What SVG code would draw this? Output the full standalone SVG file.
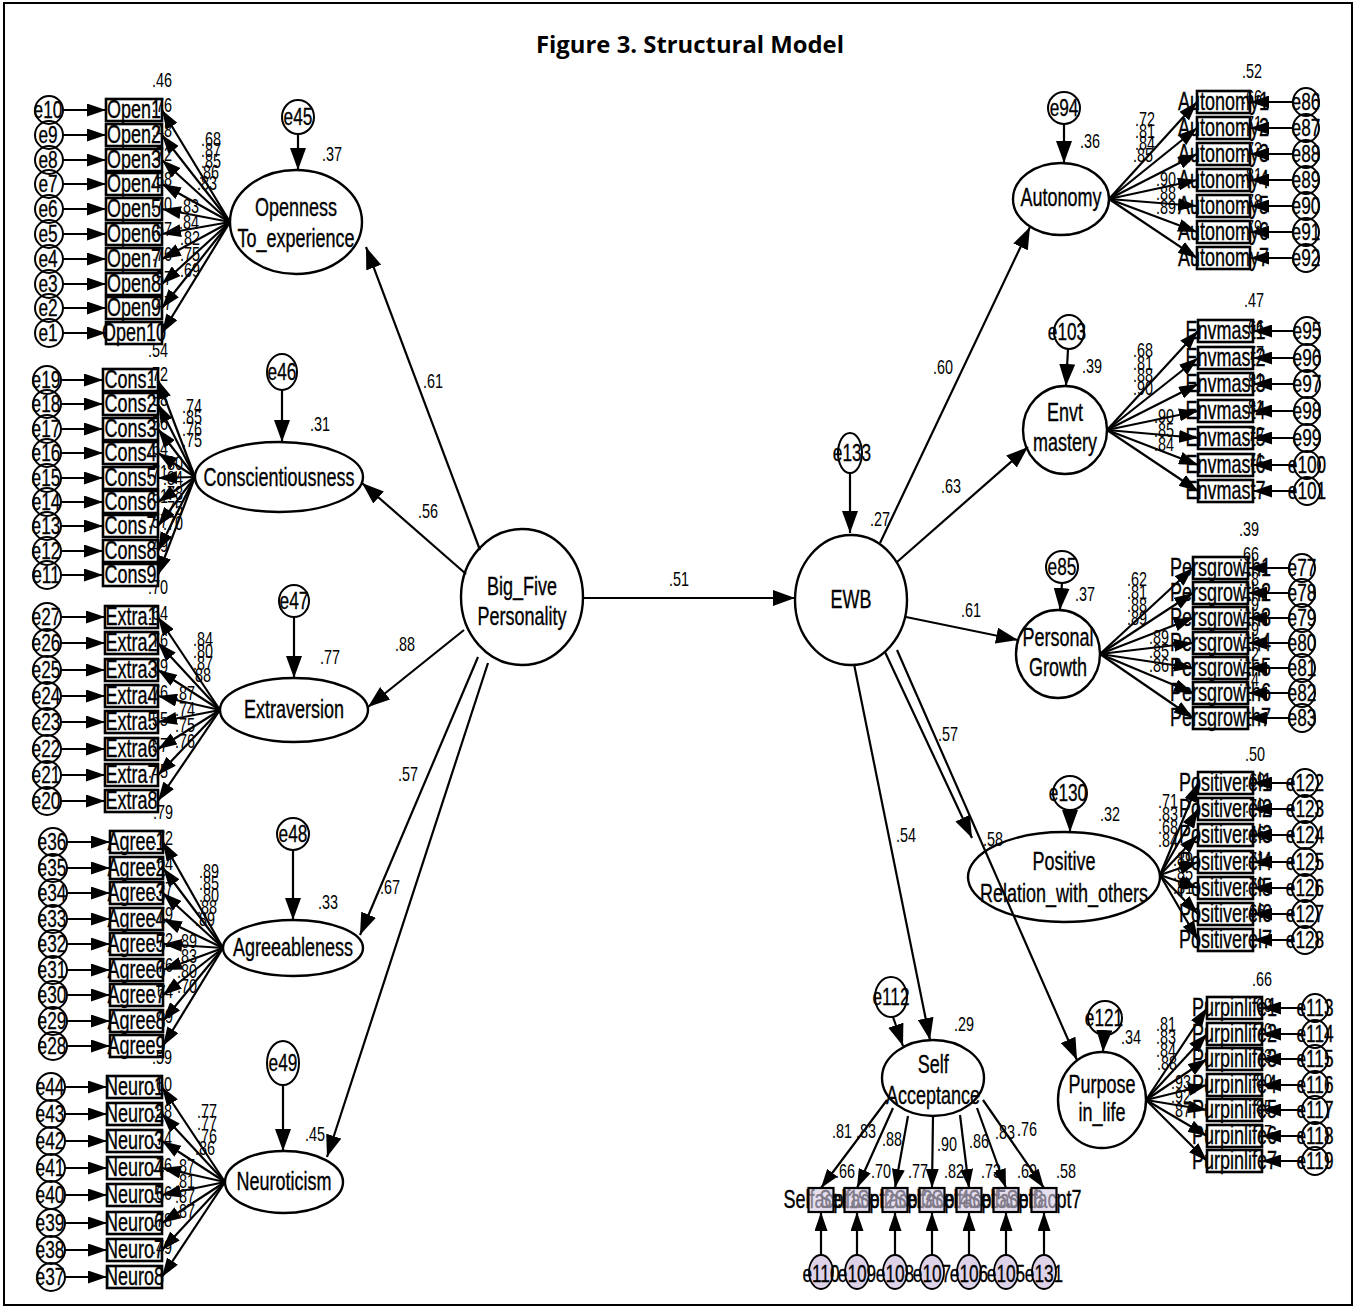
<svg xmlns="http://www.w3.org/2000/svg" width="1356" height="1309" viewBox="0 0 1356 1309">
<style>
text{font-family:"Liberation Sans",Arial,sans-serif;fill:#000;text-anchor:middle;transform-box:fill-box;transform-origin:center;transform:scaleX(.72)}
.t{font-size:25px;stroke:#000;stroke-width:.35}
.v{font-size:20px}
.e{font-size:24px;stroke:#000;stroke-width:.3}
.title{font-family:"Open Sans","Liberation Sans",sans-serif;font-weight:bold;font-size:23px;transform:none}
.lat{fill:#fff;stroke:#000;stroke-width:2.4}
.box{fill:#fff;stroke:#000;stroke-width:2.6}
.err{fill:none;stroke:#000;stroke-width:2}
.sbox{fill:#d6cbe4;fill-opacity:.6;stroke:#000;stroke-width:2.2}
.serr{fill:#ddd2e8;stroke:#000;stroke-width:1.8}
#connectors path{fill:none;stroke:#000;stroke-width:2.2}
.s{marker-end:url(#big)}
.i{marker-end:url(#sm)}
</style>
<defs>
<marker id="big" viewBox="0 0 22 16" refX="22" refY="8" markerWidth="22" markerHeight="16" markerUnits="userSpaceOnUse" orient="auto"><path d="M0,0L22,8L0,16z"/></marker>
<marker id="sm" viewBox="0 0 19 13" refX="19" refY="6.5" markerWidth="19" markerHeight="13" markerUnits="userSpaceOnUse" orient="auto"><path d="M0,0L19,6.5L0,13z"/></marker>
</defs>
<rect x="4" y="3" width="1348" height="1302" fill="#fff" stroke="#000" stroke-width="2"/>
<text class="title" x="690" y="53" textLength="308" lengthAdjust="spacingAndGlyphs">Figure 3. Structural Model</text>

<!-- Openness block -->
<g id="openness">
<ellipse class="lat" cx="296" cy="222" rx="66" ry="52"/>
<text class="t" x="296" y="216">Openness</text><text class="t" x="296" y="247">To_experience</text>
<ellipse class="err" cx="298" cy="117" rx="16" ry="17"/><text class="e" x="298" y="125">e45</text>
<ellipse class="err" cx="49" cy="110" rx="14" ry="14"/><text class="e" x="48" y="118">e10</text><rect class="box" x="106" y="99" width="56" height="22"/><text class="t" x="134" y="118">Open1</text>
<ellipse class="err" cx="49" cy="135" rx="14" ry="14"/><text class="e" x="48" y="143">e9</text><rect class="box" x="106" y="124" width="56" height="22"/><text class="t" x="134" y="143">Open2</text>
<ellipse class="err" cx="49" cy="160" rx="14" ry="14"/><text class="e" x="48" y="168">e8</text><rect class="box" x="106" y="149" width="56" height="22"/><text class="t" x="134" y="168">Open3</text>
<ellipse class="err" cx="49" cy="184" rx="14" ry="14"/><text class="e" x="48" y="192">e7</text><rect class="box" x="106" y="173" width="56" height="22"/><text class="t" x="134" y="192">Open4</text>
<ellipse class="err" cx="49" cy="209" rx="14" ry="14"/><text class="e" x="48" y="217">e6</text><rect class="box" x="106" y="198" width="56" height="22"/><text class="t" x="134" y="217">Open5</text>
<ellipse class="err" cx="49" cy="234" rx="14" ry="14"/><text class="e" x="48" y="242">e5</text><rect class="box" x="106" y="223" width="56" height="22"/><text class="t" x="134" y="242">Open6</text>
<ellipse class="err" cx="49" cy="259" rx="14" ry="14"/><text class="e" x="48" y="267">e4</text><rect class="box" x="106" y="248" width="56" height="22"/><text class="t" x="134" y="267">Open7</text>
<ellipse class="err" cx="49" cy="284" rx="14" ry="14"/><text class="e" x="48" y="292">e3</text><rect class="box" x="106" y="273" width="56" height="22"/><text class="t" x="134" y="292">Open8</text>
<ellipse class="err" cx="49" cy="308" rx="14" ry="14"/><text class="e" x="48" y="316">e2</text><rect class="box" x="106" y="297" width="56" height="22"/><text class="t" x="134" y="316">Open9</text>
<ellipse class="err" cx="49" cy="333" rx="14" ry="14"/><text class="e" x="48" y="341">e1</text><rect class="box" x="106" y="322" width="56" height="22"/><text class="t" x="134" y="341">Open10</text>
</g>

<!-- Conscientiousness block -->
<g id="conscientiousness">
<ellipse class="lat" cx="279" cy="477" rx="84" ry="35"/>
<text class="t" x="279" y="486">Conscientiousness</text>
<ellipse class="err" cx="282" cy="372" rx="15" ry="18"/><text class="e" x="282" y="380">e46</text>
<ellipse class="err" cx="47" cy="380" rx="14" ry="14"/><text class="e" x="46" y="388">e19</text><rect class="box" x="103" y="369" width="55" height="22"/><text class="t" x="130.5" y="388">Cons1</text>
<ellipse class="err" cx="47" cy="404" rx="14" ry="14"/><text class="e" x="46" y="412">e18</text><rect class="box" x="103" y="393" width="55" height="22"/><text class="t" x="130.5" y="412">Cons2</text>
<ellipse class="err" cx="47" cy="429" rx="14" ry="14"/><text class="e" x="46" y="437">e17</text><rect class="box" x="103" y="418" width="55" height="22"/><text class="t" x="130.5" y="437">Cons3</text>
<ellipse class="err" cx="47" cy="453" rx="14" ry="14"/><text class="e" x="46" y="461">e16</text><rect class="box" x="103" y="442" width="55" height="22"/><text class="t" x="130.5" y="461">Cons4</text>
<ellipse class="err" cx="47" cy="478" rx="14" ry="14"/><text class="e" x="46" y="486">e15</text><rect class="box" x="103" y="467" width="55" height="22"/><text class="t" x="130.5" y="486">Cons5</text>
<ellipse class="err" cx="47" cy="502" rx="14" ry="14"/><text class="e" x="46" y="510">e14</text><rect class="box" x="103" y="491" width="55" height="22"/><text class="t" x="130.5" y="510">Cons6</text>
<ellipse class="err" cx="47" cy="526" rx="14" ry="14"/><text class="e" x="46" y="534">e13</text><rect class="box" x="103" y="515" width="55" height="22"/><text class="t" x="130.5" y="534">Cons7</text>
<ellipse class="err" cx="47" cy="551" rx="14" ry="14"/><text class="e" x="46" y="559">e12</text><rect class="box" x="103" y="540" width="55" height="22"/><text class="t" x="130.5" y="559">Cons8</text>
<ellipse class="err" cx="47" cy="575" rx="14" ry="14"/><text class="e" x="46" y="583">e11</text><rect class="box" x="103" y="564" width="55" height="22"/><text class="t" x="130.5" y="583">Cons9</text>
</g>

<!-- Extraversion block -->
<g id="extraversion">
<ellipse class="lat" cx="294" cy="710" rx="74" ry="32"/>
<text class="t" x="294" y="718">Extraversion</text>
<ellipse class="err" cx="294" cy="601" rx="15" ry="16"/><text class="e" x="294" y="609">e47</text>
<ellipse class="err" cx="47" cy="617" rx="14" ry="14"/><text class="e" x="46" y="625">e27</text><rect class="box" x="105" y="606" width="53" height="22"/><text class="t" x="131.5" y="625">Extra1</text>
<ellipse class="err" cx="47" cy="643" rx="14" ry="14"/><text class="e" x="46" y="651">e26</text><rect class="box" x="105" y="632" width="53" height="22"/><text class="t" x="131.5" y="651">Extra2</text>
<ellipse class="err" cx="47" cy="670" rx="14" ry="14"/><text class="e" x="46" y="678">e25</text><rect class="box" x="105" y="659" width="53" height="22"/><text class="t" x="131.5" y="678">Extra3</text>
<ellipse class="err" cx="47" cy="696" rx="14" ry="14"/><text class="e" x="46" y="704">e24</text><rect class="box" x="105" y="685" width="53" height="22"/><text class="t" x="131.5" y="704">Extra4</text>
<ellipse class="err" cx="47" cy="722" rx="14" ry="14"/><text class="e" x="46" y="730">e23</text><rect class="box" x="105" y="711" width="53" height="22"/><text class="t" x="131.5" y="730">Extra5</text>
<ellipse class="err" cx="47" cy="749" rx="14" ry="14"/><text class="e" x="46" y="757">e22</text><rect class="box" x="105" y="738" width="53" height="22"/><text class="t" x="131.5" y="757">Extra6</text>
<ellipse class="err" cx="47" cy="775" rx="14" ry="14"/><text class="e" x="46" y="783">e21</text><rect class="box" x="105" y="764" width="53" height="22"/><text class="t" x="131.5" y="783">Extra7</text>
<ellipse class="err" cx="47" cy="801" rx="14" ry="14"/><text class="e" x="46" y="809">e20</text><rect class="box" x="105" y="790" width="53" height="22"/><text class="t" x="131.5" y="809">Extra8</text>
</g>

<!-- Agreeableness block -->
<g id="agreeableness">
<ellipse class="lat" cx="293" cy="948" rx="70" ry="28"/>
<text class="t" x="293" y="956">Agreeableness</text>
<ellipse class="err" cx="293" cy="834" rx="16" ry="16"/><text class="e" x="293" y="842">e48</text>
<ellipse class="err" cx="53" cy="842" rx="14" ry="14"/><text class="e" x="52" y="850">e36</text><rect class="box" x="110" y="831" width="53" height="22"/><text class="t" x="136.5" y="850">Agree1</text>
<ellipse class="err" cx="53" cy="868" rx="14" ry="14"/><text class="e" x="52" y="876">e35</text><rect class="box" x="110" y="857" width="53" height="22"/><text class="t" x="136.5" y="876">Agree2</text>
<ellipse class="err" cx="53" cy="893" rx="14" ry="14"/><text class="e" x="52" y="901">e34</text><rect class="box" x="110" y="882" width="53" height="22"/><text class="t" x="136.5" y="901">Agree3</text>
<ellipse class="err" cx="53" cy="919" rx="14" ry="14"/><text class="e" x="52" y="927">e33</text><rect class="box" x="110" y="908" width="53" height="22"/><text class="t" x="136.5" y="927">Agree4</text>
<ellipse class="err" cx="53" cy="944" rx="14" ry="14"/><text class="e" x="52" y="952">e32</text><rect class="box" x="110" y="933" width="53" height="22"/><text class="t" x="136.5" y="952">Agree5</text>
<ellipse class="err" cx="53" cy="970" rx="14" ry="14"/><text class="e" x="52" y="978">e31</text><rect class="box" x="110" y="959" width="53" height="22"/><text class="t" x="136.5" y="978">Agree6</text>
<ellipse class="err" cx="53" cy="995" rx="14" ry="14"/><text class="e" x="52" y="1003">e30</text><rect class="box" x="110" y="984" width="53" height="22"/><text class="t" x="136.5" y="1003">Agree7</text>
<ellipse class="err" cx="53" cy="1021" rx="14" ry="14"/><text class="e" x="52" y="1029">e29</text><rect class="box" x="110" y="1010" width="53" height="22"/><text class="t" x="136.5" y="1029">Agree8</text>
<ellipse class="err" cx="53" cy="1046" rx="14" ry="14"/><text class="e" x="52" y="1054">e28</text><rect class="box" x="110" y="1035" width="53" height="22"/><text class="t" x="136.5" y="1054">Agree9</text>
</g>

<!-- Neuroticism block -->
<g id="neuroticism">
<ellipse class="lat" cx="284" cy="1182" rx="59" ry="31"/>
<text class="t" x="284" y="1190">Neuroticism</text>
<ellipse class="err" cx="283" cy="1063" rx="16" ry="22"/><text class="e" x="283" y="1071">e49</text>
<ellipse class="err" cx="51" cy="1087" rx="14" ry="14"/><text class="e" x="50" y="1095">e44</text><rect class="box" x="107" y="1076" width="55" height="22"/><text class="t" x="134.5" y="1095">Neuro1</text>
<ellipse class="err" cx="51" cy="1114" rx="14" ry="14"/><text class="e" x="50" y="1122">e43</text><rect class="box" x="107" y="1103" width="55" height="22"/><text class="t" x="134.5" y="1122">Neuro2</text>
<ellipse class="err" cx="51" cy="1141" rx="14" ry="14"/><text class="e" x="50" y="1149">e42</text><rect class="box" x="107" y="1130" width="55" height="22"/><text class="t" x="134.5" y="1149">Neuro3</text>
<ellipse class="err" cx="51" cy="1168" rx="14" ry="14"/><text class="e" x="50" y="1176">e41</text><rect class="box" x="107" y="1157" width="55" height="22"/><text class="t" x="134.5" y="1176">Neuro4</text>
<ellipse class="err" cx="51" cy="1195" rx="14" ry="14"/><text class="e" x="50" y="1203">e40</text><rect class="box" x="107" y="1184" width="55" height="22"/><text class="t" x="134.5" y="1203">Neuro5</text>
<ellipse class="err" cx="51" cy="1223" rx="14" ry="14"/><text class="e" x="50" y="1231">e39</text><rect class="box" x="107" y="1212" width="55" height="22"/><text class="t" x="134.5" y="1231">Neuro6</text>
<ellipse class="err" cx="51" cy="1250" rx="14" ry="14"/><text class="e" x="50" y="1258">e38</text><rect class="box" x="107" y="1239" width="55" height="22"/><text class="t" x="134.5" y="1258">Neuro7</text>
<ellipse class="err" cx="51" cy="1277" rx="14" ry="14"/><text class="e" x="50" y="1285">e37</text><rect class="box" x="107" y="1266" width="55" height="22"/><text class="t" x="134.5" y="1285">Neuro8</text>
</g>

<!-- Central latent variables -->
<g id="big-five">
<ellipse class="lat" cx="522" cy="597" rx="61" ry="68"/>
<text class="t" x="522" y="595">Big_Five</text><text class="t" x="522" y="625">Personality</text>
</g>
<g id="ewb">
<ellipse class="lat" cx="851" cy="600" rx="56" ry="65"/>
<text class="t" x="851" y="608">EWB</text>
</g>
<g id="e133">
<ellipse class="err" cx="850" cy="453" rx="12" ry="20"/><text class="e" x="852" y="461">e133</text>
</g>

<!-- Autonomy block -->
<g id="autonomy">
<ellipse class="lat" cx="1061" cy="199" rx="48" ry="36"/>
<text class="t" x="1061" y="206">Autonomy</text>
<ellipse class="err" cx="1064" cy="108" rx="16" ry="16"/><text class="e" x="1064" y="116">e94</text>
<rect class="box" x="1197" y="91" width="53" height="22"/><text class="t" x="1223.5" y="110">Autonomy1</text><ellipse class="err" cx="1306" cy="102" rx="13" ry="14"/><text class="e" x="1306" y="110">e86</text>
<rect class="box" x="1197" y="117" width="53" height="22"/><text class="t" x="1223.5" y="136">Autonomy2</text><ellipse class="err" cx="1306" cy="128" rx="13" ry="14"/><text class="e" x="1306" y="136">e87</text>
<rect class="box" x="1197" y="143" width="53" height="22"/><text class="t" x="1223.5" y="162">Autonomy3</text><ellipse class="err" cx="1306" cy="154" rx="13" ry="14"/><text class="e" x="1306" y="162">e88</text>
<rect class="box" x="1197" y="169" width="53" height="22"/><text class="t" x="1223.5" y="188">Autonomy4</text><ellipse class="err" cx="1306" cy="180" rx="13" ry="14"/><text class="e" x="1306" y="188">e89</text>
<rect class="box" x="1197" y="195" width="53" height="22"/><text class="t" x="1223.5" y="214">Autonomy5</text><ellipse class="err" cx="1306" cy="206" rx="13" ry="14"/><text class="e" x="1306" y="214">e90</text>
<rect class="box" x="1197" y="221" width="53" height="22"/><text class="t" x="1223.5" y="240">Autonomy6</text><ellipse class="err" cx="1306" cy="232" rx="13" ry="14"/><text class="e" x="1306" y="240">e91</text>
<rect class="box" x="1197" y="247" width="53" height="22"/><text class="t" x="1223.5" y="266">Autonomy7</text><ellipse class="err" cx="1306" cy="258" rx="13" ry="14"/><text class="e" x="1306" y="266">e92</text>
</g>

<!-- Environmental mastery block -->
<g id="envt-mastery">
<ellipse class="lat" cx="1065" cy="430" rx="42" ry="44"/>
<text class="t" x="1065" y="421">Envt</text><text class="t" x="1065" y="451">mastery</text>
<ellipse class="err" cx="1069" cy="332" rx="15" ry="17"/><text class="e" x="1067" y="340">e103</text>
<rect class="box" x="1198" y="320" width="55" height="22"/><text class="t" x="1225.5" y="339">Envmast1</text><ellipse class="err" cx="1307" cy="331" rx="13" ry="14"/><text class="e" x="1307" y="339">e95</text>
<rect class="box" x="1198" y="347" width="55" height="22"/><text class="t" x="1225.5" y="366">Envmast2</text><ellipse class="err" cx="1307" cy="358" rx="13" ry="14"/><text class="e" x="1307" y="366">e96</text>
<rect class="box" x="1198" y="373" width="55" height="22"/><text class="t" x="1225.5" y="392">Envmast3</text><ellipse class="err" cx="1307" cy="384" rx="13" ry="14"/><text class="e" x="1307" y="392">e97</text>
<rect class="box" x="1198" y="400" width="55" height="22"/><text class="t" x="1225.5" y="419">Envmast4</text><ellipse class="err" cx="1307" cy="411" rx="13" ry="14"/><text class="e" x="1307" y="419">e98</text>
<rect class="box" x="1198" y="427" width="55" height="22"/><text class="t" x="1225.5" y="446">Envmast5</text><ellipse class="err" cx="1307" cy="438" rx="13" ry="14"/><text class="e" x="1307" y="446">e99</text>
<rect class="box" x="1198" y="454" width="55" height="22"/><text class="t" x="1225.5" y="473">Envmast6</text><ellipse class="err" cx="1307" cy="465" rx="13" ry="14"/><text class="e" x="1307" y="473">e100</text>
<rect class="box" x="1198" y="480" width="55" height="22"/><text class="t" x="1225.5" y="499">Envmast7</text><ellipse class="err" cx="1307" cy="491" rx="13" ry="14"/><text class="e" x="1307" y="499">e101</text>
</g>

<!-- Personal growth block -->
<g id="personal-growth">
<ellipse class="lat" cx="1058" cy="654" rx="42" ry="44"/>
<text class="t" x="1058" y="646">Personal</text><text class="t" x="1058" y="676">Growth</text>
<ellipse class="err" cx="1062" cy="567" rx="16" ry="16"/><text class="e" x="1062" y="575">e85</text>
<rect class="box" x="1193" y="557" width="55" height="22"/><text class="t" x="1220.5" y="576">Persgrowth1</text><ellipse class="err" cx="1302" cy="568" rx="13" ry="14"/><text class="e" x="1302" y="576">e77</text>
<rect class="box" x="1193" y="582" width="55" height="22"/><text class="t" x="1220.5" y="601">Persgrowth2</text><ellipse class="err" cx="1302" cy="593" rx="13" ry="14"/><text class="e" x="1302" y="601">e78</text>
<rect class="box" x="1193" y="607" width="55" height="22"/><text class="t" x="1220.5" y="626">Persgrowth3</text><ellipse class="err" cx="1302" cy="618" rx="13" ry="14"/><text class="e" x="1302" y="626">e79</text>
<rect class="box" x="1193" y="632" width="55" height="22"/><text class="t" x="1220.5" y="651">Persgrowth4</text><ellipse class="err" cx="1302" cy="643" rx="13" ry="14"/><text class="e" x="1302" y="651">e80</text>
<rect class="box" x="1193" y="657" width="55" height="22"/><text class="t" x="1220.5" y="676">Persgrowth5</text><ellipse class="err" cx="1302" cy="668" rx="13" ry="14"/><text class="e" x="1302" y="676">e81</text>
<rect class="box" x="1193" y="682" width="55" height="22"/><text class="t" x="1220.5" y="701">Persgrowth6</text><ellipse class="err" cx="1302" cy="693" rx="13" ry="14"/><text class="e" x="1302" y="701">e82</text>
<rect class="box" x="1193" y="707" width="55" height="22"/><text class="t" x="1220.5" y="726">Persgrowth7</text><ellipse class="err" cx="1302" cy="718" rx="13" ry="14"/><text class="e" x="1302" y="726">e83</text>
</g>

<!-- Positive relations block -->
<g id="positive-relations">
<ellipse class="lat" cx="1064" cy="877" rx="96" ry="45"/>
<text class="t" x="1064" y="870">Positive</text><text class="t" x="1064" y="902">Relation_with_others</text>
<ellipse class="err" cx="1070" cy="793" rx="17" ry="17"/><text class="e" x="1068" y="801">e130</text>
<rect class="box" x="1198" y="772" width="55" height="22"/><text class="t" x="1225.5" y="791">Positiverel1</text><ellipse class="err" cx="1305" cy="783" rx="13" ry="14"/><text class="e" x="1305" y="791">e122</text>
<rect class="box" x="1198" y="798" width="55" height="22"/><text class="t" x="1225.5" y="817">Positiverel2</text><ellipse class="err" cx="1305" cy="809" rx="13" ry="14"/><text class="e" x="1305" y="817">e123</text>
<rect class="box" x="1198" y="824" width="55" height="22"/><text class="t" x="1225.5" y="843">Positiverel3</text><ellipse class="err" cx="1305" cy="835" rx="13" ry="14"/><text class="e" x="1305" y="843">e124</text>
<rect class="box" x="1198" y="851" width="55" height="22"/><text class="t" x="1225.5" y="870">Positiverel4</text><ellipse class="err" cx="1305" cy="862" rx="13" ry="14"/><text class="e" x="1305" y="870">e125</text>
<rect class="box" x="1198" y="877" width="55" height="22"/><text class="t" x="1225.5" y="896">Positiverel5</text><ellipse class="err" cx="1305" cy="888" rx="13" ry="14"/><text class="e" x="1305" y="896">e126</text>
<rect class="box" x="1198" y="903" width="55" height="22"/><text class="t" x="1225.5" y="922">Positiverel6</text><ellipse class="err" cx="1305" cy="914" rx="13" ry="14"/><text class="e" x="1305" y="922">e127</text>
<rect class="box" x="1198" y="929" width="55" height="22"/><text class="t" x="1225.5" y="948">Positiverel7</text><ellipse class="err" cx="1305" cy="940" rx="13" ry="14"/><text class="e" x="1305" y="948">e128</text>
</g>

<!-- Purpose in life block -->
<g id="purpose-in-life">
<ellipse class="lat" cx="1102" cy="1100" rx="44" ry="48"/>
<text class="t" x="1102" y="1093">Purpose</text><text class="t" x="1102" y="1121">in_life</text>
<ellipse class="err" cx="1105" cy="1018" rx="17" ry="17"/><text class="e" x="1104" y="1026">e121</text>
<rect class="box" x="1207" y="997" width="55" height="22"/><text class="t" x="1234.5" y="1016">Purpinlife1</text><ellipse class="err" cx="1315" cy="1008" rx="13" ry="14"/><text class="e" x="1315" y="1016">e113</text>
<rect class="box" x="1207" y="1023" width="55" height="22"/><text class="t" x="1234.5" y="1042">Purpinlife2</text><ellipse class="err" cx="1315" cy="1034" rx="13" ry="14"/><text class="e" x="1315" y="1042">e114</text>
<rect class="box" x="1207" y="1048" width="55" height="22"/><text class="t" x="1234.5" y="1067">Purpinlife3</text><ellipse class="err" cx="1315" cy="1059" rx="13" ry="14"/><text class="e" x="1315" y="1067">e115</text>
<rect class="box" x="1207" y="1074" width="55" height="22"/><text class="t" x="1234.5" y="1093">Purpinlife4</text><ellipse class="err" cx="1315" cy="1085" rx="13" ry="14"/><text class="e" x="1315" y="1093">e116</text>
<rect class="box" x="1207" y="1099" width="55" height="22"/><text class="t" x="1234.5" y="1118">Purpinlife5</text><ellipse class="err" cx="1315" cy="1110" rx="13" ry="14"/><text class="e" x="1315" y="1118">e117</text>
<rect class="box" x="1207" y="1125" width="55" height="22"/><text class="t" x="1234.5" y="1144">Purpinlife6</text><ellipse class="err" cx="1315" cy="1136" rx="13" ry="14"/><text class="e" x="1315" y="1144">e118</text>
<rect class="box" x="1207" y="1150" width="55" height="22"/><text class="t" x="1234.5" y="1169">Purpinlife7</text><ellipse class="err" cx="1315" cy="1161" rx="13" ry="14"/><text class="e" x="1315" y="1169">e119</text>
</g>

<!-- Self acceptance block -->
<g id="self-acceptance">
<ellipse class="lat" cx="933" cy="1078" rx="51" ry="38"/>
<text class="t" x="933" y="1073">Self</text><text class="t" x="933" y="1104">Acceptance</text>
<ellipse class="err" cx="891" cy="997" rx="16" ry="20"/><text class="e" x="891" y="1005">e112</text>
<text class="t" x="821" y="1208">Selfacpt1</text><text class="t" x="857" y="1208">Selfacpt2</text><text class="t" x="895" y="1208">Selfacpt3</text><text class="t" x="932" y="1208">Selfacpt4</text><text class="t" x="969" y="1208">Selfacpt5</text><text class="t" x="1006" y="1208">Selfacpt6</text><text class="t" x="1044" y="1208">Selfacpt7</text>
<rect class="sbox" x="808.5" y="1188" width="25" height="24"/><rect class="sbox" x="844.5" y="1188" width="25" height="24"/><rect class="sbox" x="882.5" y="1188" width="25" height="24"/><rect class="sbox" x="919.5" y="1188" width="25" height="24"/><rect class="sbox" x="956.5" y="1188" width="25" height="24"/><rect class="sbox" x="993.5" y="1188" width="25" height="24"/><rect class="sbox" x="1031.5" y="1188" width="25" height="24"/>
<ellipse class="serr" cx="821" cy="1272" rx="12" ry="17"/><ellipse class="serr" cx="857" cy="1272" rx="12" ry="17"/><ellipse class="serr" cx="895" cy="1272" rx="12" ry="17"/><ellipse class="serr" cx="932" cy="1272" rx="12" ry="17"/><ellipse class="serr" cx="969" cy="1272" rx="12" ry="17"/><ellipse class="serr" cx="1006" cy="1272" rx="12" ry="17"/><ellipse class="serr" cx="1044" cy="1272" rx="12" ry="17"/>
<text class="e" x="821" y="1282">e110</text><text class="e" x="857" y="1282">e109</text><text class="e" x="895" y="1282">e108</text><text class="e" x="932" y="1282">e107</text><text class="e" x="969" y="1282">e106</text><text class="e" x="1006" y="1282">e105</text><text class="e" x="1044" y="1282">e131</text>
</g>

<g id="connectors">
<!-- structural paths -->
<path class="s" d="M480,550L366,247"/>
<path class="s" d="M466,574L362,483"/>
<path class="s" d="M464,630L368,707"/>
<path class="s" d="M478,657L360,935"/>
<path class="s" d="M488,663L327,1157"/>
<path class="s" d="M583,598L795,598"/>
<path class="s" d="M850,473L850,533"/>
<path class="s" d="M880,543L1030,227"/>
<path class="s" d="M897,562L1028,447"/>
<path class="s" d="M906,617L1018,640"/>
<path class="s" d="M885,652L972,838"/>
<path class="s" d="M897,650L1077,1060"/>
<path class="s" d="M854,664L930,1040"/>
<!-- residual paths onto latent variables -->
<path class="s" d="M298,134L298,170"/>
<path class="s" d="M282,390L282,442"/>
<path class="s" d="M294,617L294,678"/>
<path class="s" d="M293,850L293,920"/>
<path class="s" d="M283,1085L283,1151"/>
<path class="s" d="M1064,124L1064,163"/>
<path class="s" d="M1068,349L1066,386"/>
<path class="s" d="M1062,583L1060,610"/>
<path class="s" d="M1070,810L1070,832"/>
<path class="s" d="M1104,1035L1103,1052"/>
<path class="s" d="M893,1017L903,1046"/>
<!-- openness indicators -->
<path class="i" d="M63,110H106"/><path class="i" d="M63,135H106"/><path class="i" d="M63,160H106"/><path class="i" d="M63,184H106"/><path class="i" d="M63,209H106"/><path class="i" d="M63,234H106"/><path class="i" d="M63,259H106"/><path class="i" d="M63,284H106"/><path class="i" d="M63,308H106"/><path class="i" d="M63,333H106"/>
<path class="i" d="M230,222L162,110"/><path class="i" d="M230,222L162,135"/><path class="i" d="M230,222L162,160"/><path class="i" d="M230,222L162,184"/><path class="i" d="M230,222L162,209"/><path class="i" d="M230,222L162,234"/><path class="i" d="M230,222L162,259"/><path class="i" d="M230,222L162,284"/><path class="i" d="M230,222L162,308"/><path class="i" d="M230,222L162,333"/>
<!-- conscientiousness indicators -->
<path class="i" d="M61,380H103"/><path class="i" d="M61,404H103"/><path class="i" d="M61,429H103"/><path class="i" d="M61,453H103"/><path class="i" d="M61,478H103"/><path class="i" d="M61,502H103"/><path class="i" d="M61,526H103"/><path class="i" d="M61,551H103"/><path class="i" d="M61,575H103"/>
<path class="i" d="M195,477L158,380"/><path class="i" d="M195,477L158,404"/><path class="i" d="M195,477L158,429"/><path class="i" d="M195,477L158,453"/><path class="i" d="M195,477L158,478"/><path class="i" d="M195,477L158,502"/><path class="i" d="M195,477L158,526"/><path class="i" d="M195,477L158,551"/><path class="i" d="M195,477L158,575"/>
<!-- extraversion indicators -->
<path class="i" d="M61,617H105"/><path class="i" d="M61,643H105"/><path class="i" d="M61,670H105"/><path class="i" d="M61,696H105"/><path class="i" d="M61,722H105"/><path class="i" d="M61,749H105"/><path class="i" d="M61,775H105"/><path class="i" d="M61,801H105"/>
<path class="i" d="M220,710L158,617"/><path class="i" d="M220,710L158,643"/><path class="i" d="M220,710L158,670"/><path class="i" d="M220,710L158,696"/><path class="i" d="M220,710L158,722"/><path class="i" d="M220,710L158,749"/><path class="i" d="M220,710L158,775"/><path class="i" d="M220,710L158,801"/>
<!-- agreeableness indicators -->
<path class="i" d="M67,842H110"/><path class="i" d="M67,868H110"/><path class="i" d="M67,893H110"/><path class="i" d="M67,919H110"/><path class="i" d="M67,944H110"/><path class="i" d="M67,970H110"/><path class="i" d="M67,995H110"/><path class="i" d="M67,1021H110"/><path class="i" d="M67,1046H110"/>
<path class="i" d="M223,948L163,842"/><path class="i" d="M223,948L163,868"/><path class="i" d="M223,948L163,893"/><path class="i" d="M223,948L163,919"/><path class="i" d="M223,948L163,944"/><path class="i" d="M223,948L163,970"/><path class="i" d="M223,948L163,995"/><path class="i" d="M223,948L163,1021"/><path class="i" d="M223,948L163,1046"/>
<!-- neuroticism indicators -->
<path class="i" d="M65,1087H107"/><path class="i" d="M65,1114H107"/><path class="i" d="M65,1141H107"/><path class="i" d="M65,1168H107"/><path class="i" d="M65,1195H107"/><path class="i" d="M65,1223H107"/><path class="i" d="M65,1250H107"/><path class="i" d="M65,1277H107"/>
<path class="i" d="M225,1182L162,1087"/><path class="i" d="M225,1182L162,1114"/><path class="i" d="M225,1182L162,1141"/><path class="i" d="M225,1182L162,1168"/><path class="i" d="M225,1182L162,1195"/><path class="i" d="M225,1182L162,1223"/><path class="i" d="M225,1182L162,1250"/><path class="i" d="M225,1182L162,1277"/>
<!-- autonomy indicators -->
<path class="i" d="M1293,102H1250"/><path class="i" d="M1293,128H1250"/><path class="i" d="M1293,154H1250"/><path class="i" d="M1293,180H1250"/><path class="i" d="M1293,206H1250"/><path class="i" d="M1293,232H1250"/><path class="i" d="M1293,258H1250"/>
<path class="i" d="M1109,199L1197,102"/><path class="i" d="M1109,199L1197,128"/><path class="i" d="M1109,199L1197,154"/><path class="i" d="M1109,199L1197,180"/><path class="i" d="M1109,199L1197,206"/><path class="i" d="M1109,199L1197,232"/><path class="i" d="M1109,199L1197,258"/>
<!-- environmental mastery indicators -->
<path class="i" d="M1294,331H1253"/><path class="i" d="M1294,358H1253"/><path class="i" d="M1294,384H1253"/><path class="i" d="M1294,411H1253"/><path class="i" d="M1294,438H1253"/><path class="i" d="M1294,465H1253"/><path class="i" d="M1294,491H1253"/>
<path class="i" d="M1107,430L1198,331"/><path class="i" d="M1107,430L1198,358"/><path class="i" d="M1107,430L1198,384"/><path class="i" d="M1107,430L1198,411"/><path class="i" d="M1107,430L1198,438"/><path class="i" d="M1107,430L1198,465"/><path class="i" d="M1107,430L1198,491"/>
<!-- personal growth indicators -->
<path class="i" d="M1289,568H1248"/><path class="i" d="M1289,593H1248"/><path class="i" d="M1289,618H1248"/><path class="i" d="M1289,643H1248"/><path class="i" d="M1289,668H1248"/><path class="i" d="M1289,693H1248"/><path class="i" d="M1289,718H1248"/>
<path class="i" d="M1100,654L1193,568"/><path class="i" d="M1100,654L1193,593"/><path class="i" d="M1100,654L1193,618"/><path class="i" d="M1100,654L1193,643"/><path class="i" d="M1100,654L1193,668"/><path class="i" d="M1100,654L1193,693"/><path class="i" d="M1100,654L1193,718"/>
<!-- positive relations indicators -->
<path class="i" d="M1292,783H1253"/><path class="i" d="M1292,809H1253"/><path class="i" d="M1292,835H1253"/><path class="i" d="M1292,862H1253"/><path class="i" d="M1292,888H1253"/><path class="i" d="M1292,914H1253"/><path class="i" d="M1292,940H1253"/>
<path class="i" d="M1160,875L1198,783"/><path class="i" d="M1160,875L1198,809"/><path class="i" d="M1160,875L1198,835"/><path class="i" d="M1160,875L1198,862"/><path class="i" d="M1160,875L1198,888"/><path class="i" d="M1160,875L1198,914"/><path class="i" d="M1160,875L1198,940"/>
<!-- purpose in life indicators -->
<path class="i" d="M1302,1008H1262"/><path class="i" d="M1302,1034H1262"/><path class="i" d="M1302,1059H1262"/><path class="i" d="M1302,1085H1262"/><path class="i" d="M1302,1110H1262"/><path class="i" d="M1302,1136H1262"/><path class="i" d="M1302,1161H1262"/>
<path class="i" d="M1146,1100L1207,1008"/><path class="i" d="M1146,1100L1207,1034"/><path class="i" d="M1146,1100L1207,1059"/><path class="i" d="M1146,1100L1207,1085"/><path class="i" d="M1146,1100L1207,1110"/><path class="i" d="M1146,1100L1207,1136"/><path class="i" d="M1146,1100L1207,1161"/>
<!-- self acceptance indicators -->
<path class="i" d="M887,1100L821,1188"/><path class="i" d="M893,1108L857,1188"/><path class="i" d="M908,1116L895,1188"/><path class="i" d="M933,1116L932,1188"/><path class="i" d="M960,1115L969,1188"/><path class="i" d="M977,1108L1006,1188"/><path class="i" d="M983,1100L1044,1188"/>
<path class="i" d="M821,1255V1212"/><path class="i" d="M857,1255V1212"/><path class="i" d="M895,1255V1212"/><path class="i" d="M932,1255V1212"/><path class="i" d="M969,1255V1212"/><path class="i" d="M1006,1255V1212"/><path class="i" d="M1044,1255V1212"/>
</g>

<g id="estimates">
<!-- structural coefficients and squared multiple correlations -->
<text class="v" x="433" y="388">.61</text><text class="v" x="428" y="518">.56</text><text class="v" x="405" y="651">.88</text><text class="v" x="408" y="781">.57</text><text class="v" x="390" y="894">.67</text>
<text class="v" x="679" y="586">.51</text><text class="v" x="880" y="526">.27</text>
<text class="v" x="943" y="374">.60</text><text class="v" x="951" y="493">.63</text><text class="v" x="971" y="617">.61</text><text class="v" x="948" y="741">.57</text><text class="v" x="993" y="846">.58</text><text class="v" x="906" y="842">.54</text>
<text class="v" x="332" y="161">.37</text><text class="v" x="320" y="431">.31</text><text class="v" x="330" y="664">.77</text><text class="v" x="328" y="909">.33</text><text class="v" x="315" y="1141">.45</text>
<text class="v" x="1090" y="148">.36</text><text class="v" x="1092" y="373">.39</text><text class="v" x="1085" y="601">.37</text><text class="v" x="1110" y="821">.32</text><text class="v" x="1131" y="1044">.34</text><text class="v" x="964" y="1031">.29</text>
<!-- openness -->
<text class="v" x="162" y="87">.46</text><text class="v" x="162" y="112">.76</text><text class="v" x="162" y="137">.48</text><text class="v" x="162" y="161">.72</text><text class="v" x="162" y="186">.58</text><text class="v" x="162" y="211">.70</text><text class="v" x="162" y="236">.57</text><text class="v" x="162" y="261">.76</text><text class="v" x="162" y="285">.57</text><text class="v" x="162" y="310">.47</text>
<text class="v" x="211" y="146">.68</text><text class="v" x="211" y="157">.87</text><text class="v" x="211" y="168">.85</text><text class="v" x="209" y="179">.86</text><text class="v" x="207" y="190">.83</text><text class="v" x="189" y="213">.83</text><text class="v" x="189" y="229">.84</text><text class="v" x="190" y="245">.82</text><text class="v" x="190" y="261">.75</text><text class="v" x="190" y="277">.69</text>
<!-- conscientiousness -->
<text class="v" x="158" y="357">.54</text><text class="v" x="158" y="381">.72</text><text class="v" x="158" y="406">.58</text><text class="v" x="158" y="430">.56</text><text class="v" x="158" y="455">.64</text><text class="v" x="158" y="479">.71</text><text class="v" x="158" y="503">.61</text><text class="v" x="158" y="528">.57</text><text class="v" x="158" y="552">.49</text>
<text class="v" x="192" y="413">.74</text><text class="v" x="192" y="424">.85</text><text class="v" x="192" y="436">.76</text><text class="v" x="192" y="447">.75</text><text class="v" x="173" y="470">.80</text><text class="v" x="173" y="485">.84</text><text class="v" x="173" y="500">.78</text><text class="v" x="173" y="515">.75</text><text class="v" x="173" y="530">.70</text>
<!-- extraversion -->
<text class="v" x="158" y="594">.70</text><text class="v" x="158" y="620">.64</text><text class="v" x="158" y="647">.76</text><text class="v" x="158" y="673">.79</text><text class="v" x="158" y="699">.76</text><text class="v" x="158" y="726">.55</text><text class="v" x="158" y="752">.57</text><text class="v" x="158" y="778">.45</text>
<text class="v" x="203" y="646">.84</text><text class="v" x="203" y="658">.80</text><text class="v" x="203" y="670">.87</text><text class="v" x="201" y="682">.88</text><text class="v" x="185" y="700">.87</text><text class="v" x="185" y="716">.74</text><text class="v" x="185" y="732">.75</text><text class="v" x="185" y="748">.76</text>
<!-- agreeableness -->
<text class="v" x="163" y="819">.79</text><text class="v" x="163" y="845">.72</text><text class="v" x="163" y="870">.64</text><text class="v" x="163" y="896">.77</text><text class="v" x="163" y="921">.79</text><text class="v" x="163" y="947">.72</text><text class="v" x="163" y="972">.76</text><text class="v" x="163" y="998">.64</text><text class="v" x="163" y="1023">.49</text>
<text class="v" x="209" y="878">.89</text><text class="v" x="209" y="890">.85</text><text class="v" x="209" y="902">.80</text><text class="v" x="207" y="914">.88</text><text class="v" x="205" y="926">.89</text><text class="v" x="187" y="948">.89</text><text class="v" x="187" y="963">.83</text><text class="v" x="187" y="978">.80</text><text class="v" x="187" y="993">.70</text>
<!-- neuroticism -->
<text class="v" x="162" y="1064">.59</text><text class="v" x="162" y="1091">.60</text><text class="v" x="162" y="1118">.58</text><text class="v" x="162" y="1145">.74</text><text class="v" x="162" y="1172">.76</text><text class="v" x="162" y="1200">.66</text><text class="v" x="162" y="1227">.78</text><text class="v" x="162" y="1254">.49</text>
<text class="v" x="207" y="1118">.77</text><text class="v" x="207" y="1130">.77</text><text class="v" x="207" y="1143">.76</text><text class="v" x="205" y="1155">.86</text><text class="v" x="185" y="1173">.87</text><text class="v" x="185" y="1188">.81</text><text class="v" x="185" y="1203">.87</text><text class="v" x="185" y="1218">.87</text>
<!-- autonomy -->
<text class="v" x="1252" y="78">.52</text><text class="v" x="1252" y="104">.66</text><text class="v" x="1252" y="130">.71</text><text class="v" x="1252" y="156">.72</text><text class="v" x="1252" y="182">.81</text><text class="v" x="1252" y="208">.78</text><text class="v" x="1252" y="234">.79</text>
<text class="v" x="1145" y="126">.72</text><text class="v" x="1145" y="138">.81</text><text class="v" x="1145" y="150">.84</text><text class="v" x="1143" y="162">.85</text><text class="v" x="1166" y="186">.90</text><text class="v" x="1166" y="200">.88</text><text class="v" x="1166" y="214">.89</text>
<!-- environmental mastery -->
<text class="v" x="1254" y="307">.47</text><text class="v" x="1254" y="334">.66</text><text class="v" x="1254" y="360">.77</text><text class="v" x="1254" y="387">.81</text><text class="v" x="1254" y="414">.81</text><text class="v" x="1254" y="441">.72</text><text class="v" x="1254" y="467">.71</text>
<text class="v" x="1143" y="357">.68</text><text class="v" x="1143" y="370">.81</text><text class="v" x="1143" y="382">.88</text><text class="v" x="1143" y="395">.90</text><text class="v" x="1164" y="423">.90</text><text class="v" x="1164" y="437">.85</text><text class="v" x="1164" y="451">.84</text>
<!-- personal growth -->
<text class="v" x="1249" y="536">.39</text><text class="v" x="1249" y="561">.66</text><text class="v" x="1249" y="586">.78</text><text class="v" x="1249" y="611">.79</text><text class="v" x="1249" y="636">.79</text><text class="v" x="1249" y="661">.72</text><text class="v" x="1249" y="686">.74</text>
<text class="v" x="1137" y="586">.62</text><text class="v" x="1137" y="599">.81</text><text class="v" x="1137" y="612">.88</text><text class="v" x="1137" y="625">.89</text><text class="v" x="1159" y="644">.89</text><text class="v" x="1159" y="658">.85</text><text class="v" x="1159" y="672">.86</text>
<!-- positive relations -->
<text class="v" x="1255" y="761">.50</text><text class="v" x="1255" y="787">.69</text><text class="v" x="1255" y="813">.70</text><text class="v" x="1255" y="840">.46</text><text class="v" x="1255" y="866">.71</text><text class="v" x="1255" y="892">.79</text><text class="v" x="1255" y="918">.66</text>
<text class="v" x="1168" y="808">.71</text><text class="v" x="1168" y="821">.83</text><text class="v" x="1168" y="834">.68</text><text class="v" x="1168" y="847">.84</text><text class="v" x="1183" y="866">.89</text><text class="v" x="1183" y="880">.85</text><text class="v" x="1183" y="894">.81</text>
<!-- purpose in life -->
<text class="v" x="1262" y="986">.66</text><text class="v" x="1262" y="1012">.69</text><text class="v" x="1262" y="1037">.70</text><text class="v" x="1262" y="1063">.73</text><text class="v" x="1262" y="1088">.80</text><text class="v" x="1262" y="1114">.85</text><text class="v" x="1262" y="1139">.77</text>
<text class="v" x="1166" y="1031">.81</text><text class="v" x="1166" y="1044">.83</text><text class="v" x="1166" y="1057">.84</text><text class="v" x="1167" y="1070">.88</text><text class="v" x="1181" y="1089">.93</text><text class="v" x="1181" y="1103">.92</text><text class="v" x="1181" y="1117">.87</text>
<!-- self acceptance -->
<text class="v" x="842" y="1138">.81</text><text class="v" x="866" y="1138">.83</text><text class="v" x="892" y="1146">.88</text><text class="v" x="947" y="1151">.90</text><text class="v" x="979" y="1148">.86</text><text class="v" x="1005" y="1139">.83</text><text class="v" x="1027" y="1136">.76</text>
<text class="v" x="845" y="1178">.66</text><text class="v" x="881" y="1178">.70</text><text class="v" x="918" y="1178">.77</text><text class="v" x="954" y="1178">.82</text><text class="v" x="991" y="1178">.73</text><text class="v" x="1027" y="1178">.69</text><text class="v" x="1066" y="1178">.58</text>
</g>
</svg>
